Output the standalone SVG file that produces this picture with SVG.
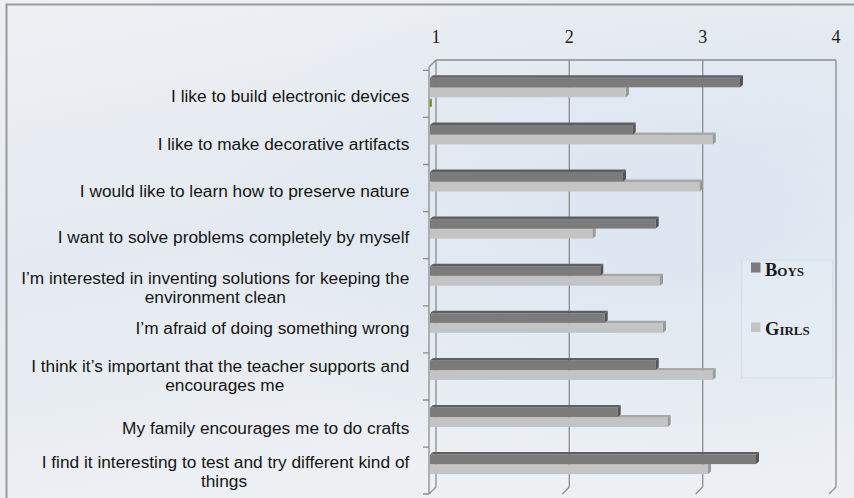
<svg xmlns="http://www.w3.org/2000/svg" width="854" height="498" viewBox="0 0 854 498">
<defs>
<linearGradient id="bg" x1="0" y1="0" x2="0.3" y2="1">
<stop offset="0" stop-color="#eef0f3"/>
<stop offset="0.5" stop-color="#e4eaf1"/>
<stop offset="1" stop-color="#edf0f3"/>
</linearGradient>
<radialGradient id="blue" cx="0.8" cy="0.45" r="0.55">
<stop offset="0" stop-color="#dbe5f1" stop-opacity="0.9"/>
<stop offset="1" stop-color="#dbe5f1" stop-opacity="0"/>
</radialGradient>
<style>
.lbl{font-family:"Liberation Sans",Arial,sans-serif;font-size:17.3px;fill:#151515;text-anchor:end}
.lblc{font-family:"Liberation Sans",Arial,sans-serif;font-size:17.3px;fill:#151515;text-anchor:middle}
.num{font-family:"Liberation Serif","DejaVu Serif",serif;font-size:18px;fill:#1e1e1e;text-anchor:middle}
.leg{font-family:"Liberation Serif","DejaVu Serif",serif;font-size:18.5px;font-weight:bold;font-variant:small-caps;fill:#1a1a1a}
.grid{stroke:#8c8c8c;stroke-width:1.3;fill:none}
.bf{fill:#7b7b7b}
.bt{fill:#5f5f5f}
.be{fill:#555}
.gf{fill:#c4c4c4}
.gt{fill:#a8a8a8}
.ge{fill:#9a9a9a}
</style>
</defs>
<rect x="0" y="0" width="854" height="498" fill="url(#bg)"/>
<rect x="0" y="0" width="854" height="498" fill="url(#blue)"/>
<path d="M6.5,498 V4.5 H854" fill="none" stroke="#9a9a9a" stroke-width="2"/>

<g id="axes">
<path class="grid" d="M436,60 H836 M436,60 V487 M569.3,60 V487 M702.7,60 V487 M836,60 V487 M436,487 L429,494 M569.3,487 L562.3,494 M702.7,487 L695.7,494 M836,487 L829,494 M436,60 L429,67 M429,67 V494 M423,70.3 H429 M423,117.4 H429 M423,164.5 H429 M423,211.6 H429 M423,258.7 H429 M423,305.8 H429 M423,352.9 H429 M423,400 H429 M423,447.1 H429 M423,494 H429"/>
<text class="num" x="436" y="43.3">1</text>
<text class="num" x="569.3" y="43.3">2</text>
<text class="num" x="702.7" y="43.3">3</text>
<text class="num" x="836" y="43.3">4</text>
</g>

<g id="cat1">
<text class="lbl" x="409.3" y="101.7">I like to build electronic devices</text>
<g transform="translate(0,70.3)">
<rect class="gf" x="430" y="17.5" width="196" height="9.5"/>
<polygon class="gt" points="430,17.5 433,15 629,15 626,17.5"/>
<polygon class="ge" points="626,17.5 629,15 629,24.5 626,27"/>
<rect class="bf" x="430" y="7.5" width="310" height="9.5"/>
<polygon class="bt" points="430,7.5 433,5 743,5 740,7.5"/>
<polygon class="be" points="740,7.5 743,5 743,14.5 740,17"/>
<rect x="429.5" y="28.5" width="2.5" height="8" fill="#7a9a30"/>
</g>
</g>

<g id="cat2">
<text class="lbl" x="409.3" y="149.5">I like to make decorative artifacts</text>
<g transform="translate(0,117.4)">
<rect class="gf" x="430" y="17.5" width="282.7" height="9.5"/>
<polygon class="gt" points="430,17.5 433,15 715.7,15 712.7,17.5"/>
<polygon class="ge" points="712.7,17.5 715.7,15 715.7,24.5 712.7,27"/>
<rect class="bf" x="430" y="7.5" width="202.7" height="9.5"/>
<polygon class="bt" points="430,7.5 433,5 635.7,5 632.7,7.5"/>
<polygon class="be" points="632.7,7.5 635.7,5 635.7,14.5 632.7,17"/>
</g>
</g>

<g id="cat3">
<text class="lbl" x="409.3" y="196.7">I would like to learn how to preserve nature</text>
<g transform="translate(0,164.5)">
<rect class="gf" x="430" y="17.5" width="269.7" height="9.5"/>
<polygon class="gt" points="430,17.5 433,15 702.7,15 699.7,17.5"/>
<polygon class="ge" points="699.7,17.5 702.7,15 702.7,24.5 699.7,27"/>
<rect class="bf" x="430" y="7.5" width="193" height="9.5"/>
<polygon class="bt" points="430,7.5 433,5 626,5 623,7.5"/>
<polygon class="be" points="623,7.5 626,5 626,14.5 623,17"/>
</g>
</g>

<g id="cat4">
<text class="lbl" x="409.3" y="242.7">I want to solve problems completely by myself</text>
<g transform="translate(0,211.6)">
<rect class="gf" x="430" y="17.5" width="162.7" height="9.5"/>
<polygon class="gt" points="430,17.5 433,15 595.7,15 592.7,17.5"/>
<polygon class="ge" points="592.7,17.5 595.7,15 595.7,24.5 592.7,27"/>
<rect class="bf" x="430" y="7.5" width="225.7" height="9.5"/>
<polygon class="bt" points="430,7.5 433,5 658.7,5 655.7,7.5"/>
<polygon class="be" points="655.7,7.5 658.7,5 658.7,14.5 655.7,17"/>
</g>
</g>

<g id="cat5">
<text class="lbl" x="409.3" y="284.3">I’m interested in inventing solutions for keeping the</text>
<text class="lblc" x="215.3" y="302.7">environment clean</text>
<g transform="translate(0,258.7)">
<rect class="gf" x="430" y="17.5" width="230" height="9.5"/>
<polygon class="gt" points="430,17.5 433,15 663,15 660,17.5"/>
<polygon class="ge" points="660,17.5 663,15 663,24.5 660,27"/>
<rect class="bf" x="430" y="7.5" width="170.3" height="9.5"/>
<polygon class="bt" points="430,7.5 433,5 603.3,5 600.3,7.5"/>
<polygon class="be" points="600.3,7.5 603.3,5 603.3,14.5 600.3,17"/>
</g>
</g>

<g id="cat6">
<text class="lbl" x="409.3" y="334">I’m afraid of doing something wrong</text>
<g transform="translate(0,305.8)">
<rect class="gf" x="430" y="17.5" width="233" height="9.5"/>
<polygon class="gt" points="430,17.5 433,15 666,15 663,17.5"/>
<polygon class="ge" points="663,17.5 666,15 666,24.5 663,27"/>
<rect class="bf" x="430" y="7.5" width="174.7" height="9.5"/>
<polygon class="bt" points="430,7.5 433,5 607.7,5 604.7,7.5"/>
<polygon class="be" points="604.7,7.5 607.7,5 607.7,14.5 604.7,17"/>
</g>
</g>

<g id="cat7">
<text class="lbl" x="409.3" y="372.3">I think it’s important that the teacher supports and</text>
<text class="lblc" x="224.8" y="390.7">encourages me</text>
<g transform="translate(0,352.9)">
<rect class="gf" x="430" y="17.5" width="282.7" height="9.5"/>
<polygon class="gt" points="430,17.5 433,15 715.7,15 712.7,17.5"/>
<polygon class="ge" points="712.7,17.5 715.7,15 715.7,24.5 712.7,27"/>
<rect class="bf" x="430" y="7.5" width="225.7" height="9.5"/>
<polygon class="bt" points="430,7.5 433,5 658.7,5 655.7,7.5"/>
<polygon class="be" points="655.7,7.5 658.7,5 658.7,14.5 655.7,17"/>
</g>
</g>

<g id="cat8">
<text class="lbl" x="409.3" y="434">My family encourages me to do crafts</text>
<g transform="translate(0,400)">
<rect class="gf" x="430" y="17.5" width="237.7" height="9.5"/>
<polygon class="gt" points="430,17.5 433,15 670.7,15 667.7,17.5"/>
<polygon class="ge" points="667.7,17.5 670.7,15 670.7,24.5 667.7,27"/>
<rect class="bf" x="430" y="7.5" width="187.7" height="9.5"/>
<polygon class="bt" points="430,7.5 433,5 620.7,5 617.7,7.5"/>
<polygon class="be" points="617.7,7.5 620.7,5 620.7,14.5 617.7,17"/>
</g>
</g>

<g id="cat9">
<text class="lbl" x="409.3" y="468.3">I find it interesting to test and try different kind of</text>
<text class="lblc" x="224" y="486.7">things</text>
<g transform="translate(0,447.1)">
<rect class="gf" x="430" y="17.5" width="278" height="9.5"/>
<polygon class="gt" points="430,17.5 433,15 711,15 708,17.5"/>
<polygon class="ge" points="708,17.5 711,15 711,24.5 708,27"/>
<rect class="bf" x="430" y="7.5" width="326" height="9.5"/>
<polygon class="bt" points="430,7.5 433,5 759,5 756,7.5"/>
<polygon class="be" points="756,7.5 759,5 759,14.5 756,17"/>
</g>
</g>

<g id="legend">
<rect x="741.7" y="260" width="91" height="118" fill="#e6edf5" fill-opacity="0.5" stroke="#d3dde9" stroke-width="1"/>
<rect x="751" y="262.5" width="9.5" height="10" fill="#7b7b7b"/>
<text class="leg" x="765" y="276.3">Boys</text>
<rect x="751" y="322.5" width="9.5" height="9.5" fill="#c4c4c4"/>
<text class="leg" x="765" y="335.3">Girls</text>
</g>
</svg>
